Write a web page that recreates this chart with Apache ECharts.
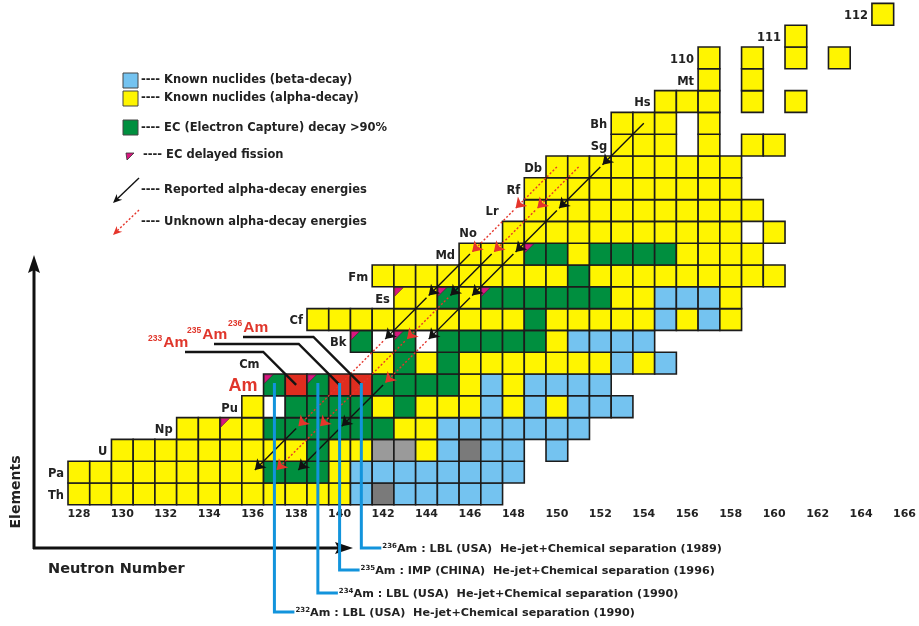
<!DOCTYPE html>
<html>
<head>
<meta charset="utf-8">
<script src="https://cdn.jsdelivr.net/npm/echarts@6/dist/echarts.min.js"></script>
<style>
  html, body { margin: 0; padding: 0; background: #ffffff; }
  #chart { width: 919px; height: 626px; }
</style>
</head>
<body>
<div id="chart"></div>
<script>
// ---- Chart of the heaviest nuclides: proton number (rows) against neutron number ----

const neutronTicks = [128, 130, 132, 134, 136, 138, 140, 142, 144, 146, 148, 150, 152, 154, 156, 158, 160, 162, 164, 166];

const rowZ = [90, 91, 92, 93, 94, 95, 96, 97, 98, 99, 100, 101, 102, 103, 104, 105, 106, 107, 108, 109, 110, 111, 112];
const rowSymbol = ['Th', 'Pa', 'U', 'Np', 'Pu', 'Am', 'Cm', 'Bk', 'Cf', 'Es', 'Fm', 'Md', 'No', 'Lr', 'Rf', 'Db', 'Sg', 'Bh', 'Hs', 'Mt', '110', '111', '112'];
// first neutron number of each row
const rowStartN = [128, 128, 130, 133, 136, 137, 142, 141, 139, 143, 142, 146, 148, 149, 149, 150, 153, 153, 155, 157, 157, 161, 165];
// decay class of each nuclide, one letter per neutron number:
// Y alpha, B beta, G EC > 90%, R new americium isotopes, W unmarked, L light grey, D dark grey, '.' none
const rowCells = [
  'YYYYYYYYYYYYYBDBBBBB',
  'YYYYYYYYYGGGYBBBBBBBB',
  'YYYYYYYYYGYYLLYBDBB.B',
  'YYYYGGGGGGYYBBBBBBB',
  'YWGGGGYGYYYBYBYBBB',
  'GRGRRGGGGYBYBBBB',
  'YGYGYYYYYYYBYB',
  'GWGWGGGGGYBBBB',
  'YYYYYYYYYYGYYYYYBYBY',
  'YYGYGGGGGGYYBBBY',
  'YYYYYYYYYGYYYYYYYYY',
  'YYYGGYGGGGYYYY',
  'YYYYYYYYYYY.Y',
  'YYYYYYYYYYY',
  'YYYYYYYYYY',
  'YYYYYYYYY',
  'YYY.Y.YY',
  'YYY.Y',
  'YYY.Y.Y',
  'Y.Y',
  'Y.Y.Y.Y',
  'Y',
  'Y'
];
// neutron number before which each row symbol is written
const rowLabelN = [128, 128, 130, 133, 136, 137, 137, 141, 139, 143, 142, 146, 147, 148, 149, 150, 153, 153, 155, 157, 157, 161, 165];

// nuclides with EC delayed fission [N, Z]
const ecDelayedFission = [[135, 93], [137, 95], [139, 95], [141, 97], [143, 97], [143, 99], [145, 99], [147, 99], [149, 101]];

// alpha-decay chains: nuclides [N, Z] and the kind of every step (B reported, R unknown energies)
const chainA = [[154, 107], [152, 105], [150, 103], [148, 101], [146, 99], [144, 97], [142, 95], [140, 93], [138, 91]];
const chainAKinds = 'BBBBBRBB';
const chainB = [[151, 105], [149, 103], [147, 101], [145, 99], [143, 97], [139, 93], [137, 91]];
const chainBKinds = 'RRBRRR';
const chainC = [[150, 105], [148, 103], [146, 101], [144, 99], [142, 97], [138, 93], [136, 91]];
const chainCKinds = 'RRBBRB';

// americium isotopes: mass numbers and neutron numbers
const amMass = [232, 233, 234, 235, 236];
const amN = [137, 138, 139, 140, 141];
const amZ = 95;
const newIsotopes = [233, 235, 236];
const discoveries = [
  [236, 'LBL (USA)', '1989'],
  [235, 'IMP (CHINA)', '1996'],
  [234, 'LBL (USA)', '1990'],
  [232, 'LBL (USA)', '1990']
];

// ---- styles ----
const palette = {
  Y: '#fff500', B: '#74c3f0', G: '#008f3f', R: '#df2d1f',
  W: '#ffffff', L: '#9a9a9a', D: '#7a7a7a'
};
const EDGE = '#1c1c1c';
const MAGENTA = '#d7187f';
const RED_TEXT = '#e0362b';
const BLUE_LINE = '#1294dc';
const FONT = '"DejaVu Sans", "Liberation Sans", sans-serif';
const TXT = '#222222';

// ---- derived tables ----
const cellList = [];
rowZ.forEach((z, r) => {
  const s = rowCells[r];
  for (let i = 0; i < s.length; i++) {
    if (s[i] === '.') continue;
    const n = rowStartN[r] + i;
    const ecf = ecDelayedFission.some(p => p[0] === n && p[1] === z);
    cellList.push({ n: n, z: z, k: s[i], ecf: ecf });
  }
});

function chainSegments(points, kinds, wanted) {
  const out = [];
  for (let i = 1; i < points.length; i++) {
    if (kinds[i - 1] !== wanted) continue;
    const a = points[i - 1], b = points[i];
    // arrow tip rests just up-right of the daughter's centre
    out.push({ coords: [[a[0], a[1]], [b[0] + 0.1, b[1] + 0.1]] });
  }
  return out;
}
const reportedSegs = [].concat(
  chainSegments(chainA, chainAKinds, 'B'),
  chainSegments(chainB, chainBKinds, 'B'),
  chainSegments(chainC, chainCKinds, 'B'));
const unknownSegs = [].concat(
  chainSegments(chainA, chainAKinds, 'R'),
  chainSegments(chainB, chainBKinds, 'R'),
  chainSegments(chainC, chainCKinds, 'R'));

// label placement for the new isotopes (pixels)
const isoLabelLayout = {
  233: { textX: 148, lineY: 352, lineX: 185 },
  235: { textX: 187, lineY: 344, lineX: 214 },
  236: { textX: 228, lineY: 337, lineX: 243 }
};
// rows of the discovery notes (pixels)
const noteLayout = { 236: 548, 235: 570, 234: 593, 232: 612 };

function arrowHead(x1, y1, x2, y2, len, half, color) {
  const dx = x2 - x1, dy = y2 - y1, L = Math.hypot(dx, dy);
  const ux = dx / L, uy = dy / L;
  const bx = x2 - ux * len, by = y2 - uy * len;
  const nx = x2 - ux * len * 0.7, ny = y2 - uy * len * 0.7;
  return {
    type: 'polygon', z: 10,
    shape: { points: [[x2, y2], [bx - uy * half, by + ux * half], [nx, ny], [bx + uy * half, by - ux * half]] },
    style: { fill: color }
  };
}

function legendText(x, y, t) {
  return { type: 'text', x: x, y: y, z: 10,
    style: { text: t, fill: TXT, font: 'bold 11.5px ' + FONT, textVerticalAlign: 'middle' } };
}

const chart = echarts.init(document.getElementById('chart'));

const option = {
  animation: false,
  backgroundColor: '#ffffff',
  grid: { left: 68, top: 3.4, width: 850.2, height: 501.4, containLabel: false },
  xAxis: {
    type: 'value', min: 127.5, max: 166.5,
    axisLine: { show: false }, axisTick: { show: false }, splitLine: { show: false },
    axisLabel: {
      customValues: neutronTicks, margin: 4,
      color: TXT, fontWeight: 'bold', fontSize: 11, fontFamily: FONT
    }
  },
  yAxis: { type: 'value', min: 89.5, max: 112.5, show: false },
  series: [
    {
      // nuclide boxes
      type: 'custom', z: 2, clip: false,
      data: cellList.map(c => [c.n, c.z]),
      encode: { x: 0, y: 1 },
      renderItem: function (params, api) {
        const c = cellList[params.dataIndex];
        const p0 = api.coord([c.n - 0.5, c.z + 0.5]);
        const p1 = api.coord([c.n + 0.5, c.z - 0.5]);
        const w = p1[0] - p0[0], h = p1[1] - p0[1];
        const kids = [{
          type: 'rect',
          shape: { x: p0[0], y: p0[1], width: w, height: h },
          style: { fill: palette[c.k], stroke: EDGE, lineWidth: 1.6 }
        }];
        if (c.ecf) {
          kids.push({
            type: 'polygon',
            shape: { points: [[p0[0] + 0.8, p0[1] + 0.8], [p0[0] + w * 0.43, p0[1] + 0.8], [p0[0] + 0.8, p0[1] + h * 0.43]] },
            style: { fill: MAGENTA, stroke: '#55103a', lineWidth: 0.6 }
          });
        }
        return { type: 'group', children: kids };
      }
    },
    {
      // element symbols at the start of each row
      type: 'custom', z: 3, clip: false,
      data: rowZ.map((z, r) => [rowLabelN[r], z]),
      encode: { x: 0, y: 1 },
      renderItem: function (params, api) {
        const r = params.dataIndex;
        const p = api.coord([rowLabelN[r] - 0.5, rowZ[r]]);
        const isAm = rowSymbol[r] === 'Am';
        return {
          type: 'text', x: p[0] - (isAm ? 6 : 4), y: p[1] + (isAm ? 1 : 2),
          style: {
            text: rowSymbol[r],
            fill: isAm ? RED_TEXT : TXT,
            font: isAm ? 'bold 18px "Liberation Sans", Arial, sans-serif' : 'bold 11.5px ' + FONT,
            textAlign: 'right', textVerticalAlign: 'middle'
          }
        };
      }
    },
    {
      // reported alpha-decay energies
      type: 'lines', coordinateSystem: 'cartesian2d', z: 5,
      symbol: ['none', 'arrow'], symbolSize: 10,
      lineStyle: { color: '#111111', width: 1.4, opacity: 1 },
      data: reportedSegs
    },
    {
      // unknown alpha-decay energies
      type: 'lines', coordinateSystem: 'cartesian2d', z: 6,
      symbol: ['none', 'arrow'], symbolSize: 10,
      lineStyle: { color: '#e5352b', width: 1.4, type: [2, 2], opacity: 1 },
      data: unknownSegs
    },
    {
      // labels and leader lines of the new americium isotopes
      type: 'custom', z: 7, clip: false,
      data: newIsotopes.map(m => [amN[amMass.indexOf(m)], amZ]),
      encode: { x: 0, y: 1 },
      renderItem: function (params, api) {
        const mass = newIsotopes[params.dataIndex];
        const n = amN[amMass.indexOf(mass)];
        const c = api.coord([n, amZ]);
        const L = isoLabelLayout[mass];
        const kneeX = c[0] - (c[1] - L.lineY);
        return {
          type: 'group',
          children: [
            {
              type: 'polyline',
              shape: { points: [[L.lineX, L.lineY], [kneeX, L.lineY], [c[0], c[1]]] },
              style: { stroke: '#141414', lineWidth: 2.4, fill: null }
            },
            {
              type: 'text', x: L.textX, y: L.lineY - 0.5,
              style: {
                text: '{s|' + mass + '}{a|Am}',
                textVerticalAlign: 'bottom',
                rich: {
                  s: { fill: RED_TEXT, font: 'bold 8.5px "Liberation Sans", Arial, sans-serif', verticalAlign: 'top', padding: [0, 1, 8, 0] },
                  a: { fill: RED_TEXT, font: 'bold 15.5px "Liberation Sans", Arial, sans-serif' }
                }
              }
            }
          ]
        };
      }
    },
    {
      // discovery notes joined to their cells
      type: 'custom', z: 8, clip: false,
      data: discoveries.map(d => [amN[amMass.indexOf(d[0])], amZ]),
      encode: { x: 0, y: 1 },
      renderItem: function (params, api) {
        const d = discoveries[params.dataIndex];
        const n = amN[amMass.indexOf(d[0])];
        const c = api.coord([n, amZ]);
        const y = noteLayout[d[0]];
        const x2 = c[0] + 20;
        return {
          type: 'group',
          children: [
            {
              type: 'polyline',
              shape: { points: [[c[0], c[1] - 2], [c[0], y], [x2, y]] },
              style: { stroke: BLUE_LINE, lineWidth: 3, fill: null }
            },
            {
              type: 'text', x: x2 + 1, y: y + 1,
              style: {
                text: '{s|' + d[0] + '}{t|Am : ' + d[1] + '  He-jet+Chemical separation (' + d[2] + ')}',
                textVerticalAlign: 'middle',
                rich: {
                  s: { fill: TXT, font: 'bold 7px ' + FONT, verticalAlign: 'top', padding: [0, 0, 6, 0] },
                  t: { fill: TXT, font: 'bold 11.2px ' + FONT }
                }
              }
            }
          ]
        };
      }
    }
  ],
  graphic: [
    // legend
    { type: 'rect', z: 10, shape: { x: 123, y: 73, width: 15, height: 15 }, style: { fill: palette.B, stroke: '#444', lineWidth: 1 } },
    legendText(141, 80.5, '---- Known nuclides (beta-decay)'),
    { type: 'rect', z: 10, shape: { x: 123, y: 91, width: 15, height: 15 }, style: { fill: palette.Y, stroke: '#444', lineWidth: 1 } },
    legendText(141, 98.5, '---- Known nuclides (alpha-decay)'),
    { type: 'rect', z: 10, shape: { x: 123, y: 120, width: 15, height: 15 }, style: { fill: palette.G, stroke: '#444', lineWidth: 1 } },
    legendText(141, 128, '---- EC (Electron Capture) decay >90%'),
    { type: 'polygon', z: 10, shape: { points: [[126, 153], [134, 153], [127, 160]] }, style: { fill: MAGENTA, stroke: '#333', lineWidth: 0.8 } },
    legendText(143, 155.5, '---- EC delayed fission'),
    { type: 'line', z: 10, shape: { x1: 139, y1: 178, x2: 116, y2: 200 }, style: { stroke: '#111', lineWidth: 1.4 } },
    arrowHead(139, 178, 113, 203, 9, 4, '#111'),
    legendText(141, 190.5, '---- Reported alpha-decay energies'),
    { type: 'line', z: 10, shape: { x1: 139, y1: 210, x2: 116, y2: 232 }, style: { stroke: '#e5352b', lineWidth: 1.4, lineDash: [2, 2] } },
    arrowHead(139, 210, 113, 235, 9, 4, '#e5352b'),
    legendText(141, 222, '---- Unknown alpha-decay energies'),
    // axis arrows and titles
    { type: 'line', z: 1, shape: { x1: 34, y1: 549, x2: 34, y2: 268 }, style: { stroke: '#111', lineWidth: 3 } },
    { type: 'polygon', z: 1, shape: { points: [[34, 255], [40, 273], [34, 270], [28, 273]] }, style: { fill: '#111' } },
    { type: 'line', z: 1, shape: { x1: 33, y1: 548, x2: 340, y2: 548 }, style: { stroke: '#111', lineWidth: 3 } },
    { type: 'polygon', z: 1, shape: { points: [[353, 548], [335, 542], [338, 548], [335, 554]] }, style: { fill: '#111' } },
    { type: 'text', z: 10, x: 16, y: 492, rotation: Math.PI / 2,
      style: { text: 'Elements', fill: TXT, font: 'bold 14px ' + FONT, textAlign: 'center', textVerticalAlign: 'middle' } },
    { type: 'text', z: 10, x: 48, y: 569,
      style: { text: 'Neutron Number', fill: TXT, font: 'bold 14.5px ' + FONT, textVerticalAlign: 'middle' } }
  ]
};

chart.setOption(option);
</script>
</body>
</html>
